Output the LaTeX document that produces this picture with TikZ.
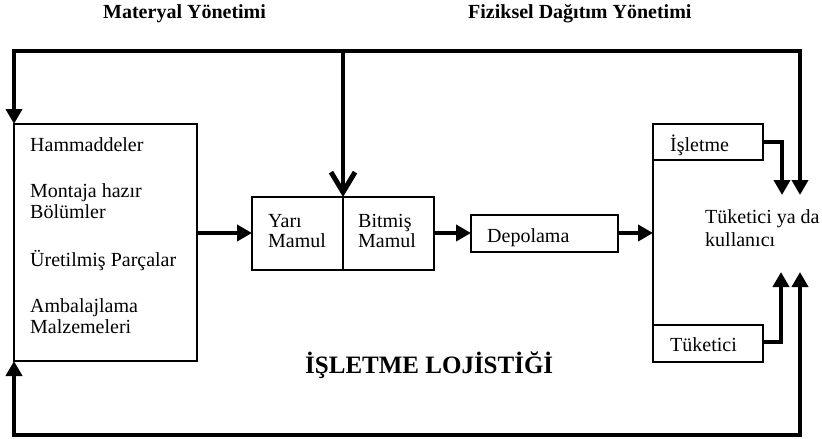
\documentclass[tikz,border=0pt]{standalone}
\usepackage{fontspec}
\setmainfont{Liberation Serif}
\usetikzlibrary{arrows.meta}
\begin{document}
\begin{tikzpicture}[x=1pt,y=-1pt,
  box/.style={draw=black,line width=1.3pt,inner sep=0pt,outer sep=0pt,anchor=north west},
  txt/.style={anchor=base west,inner sep=0pt,font=\fontsize{20}{21}\selectfont},
  head/.style={anchor=base west,inner sep=0pt,font=\fontsize{20}{21}\bfseries\selectfont},
  flow/.style={line width=4.5pt,line join=miter},
  tri/.style={-{Triangle[length=15pt,width=16pt]}},
  barb/.style={-{Straight Barb[length=20pt,width=24pt,line width=5pt]}}
]
\useasboundingbox (0,0) rectangle (822,439);

% headings
\node[head] (hmat) at (103,19) {Materyal Yönetimi};
\node[head] (hfiz) at (468,19) {Fiziksel Dağıtım Yönetimi};

% boxes
\node[box,minimum width=183pt,minimum height=237pt] (mat) at (14,124) {};
\node[box,minimum width=91pt,minimum height=73pt] (yari) at (252,197) {};
\node[box,minimum width=91pt,minimum height=73pt] (bitmis) at (343,197) {};
\node[box,minimum width=147pt,minimum height=37pt] (depo) at (471,215) {};
\node[box,minimum width=110pt,minimum height=36pt] (isl) at (653,124) {};
\node[box,minimum width=110pt,minimum height=37pt] (tuk) at (653,325) {};

% box texts
\node[txt] (t1) at (30,151) {Hammaddeler};
\node[txt] (t2) at (30,197) {Montaja hazır};
\node[txt] (t3) at (30,218) {Bölümler};
\node[txt] (t4) at (30,266) {Üretilmiş Parçalar};
\node[txt] (t5) at (30,312) {Ambalajlama};
\node[txt] (t6) at (30,333) {Malzemeleri};
\node[txt] (t7) at (268,227) {Yarı};
\node[txt] (t8) at (268,247) {Mamul};
\node[txt] (t9) at (358,227) {Bitmiş};
\node[txt] (t10) at (358,247) {Mamul};
\node[txt] (t11) at (487,242) {Depolama};
\node[txt] (t12) at (670,151) {İşletme};
\node[txt] (t13) at (670,351) {Tüketici};
\node[txt] (t14) at (705,223) {Tüketici ya da};
\node[txt] (t15) at (705,246) {kullanıcı};

% title
\node[anchor=base west,inner sep=0pt,font=\fontsize{25}{27}\bfseries\selectfont] (title) at (305,373) {İŞLETME LOJİSTİĞİ};

% connection points
\coordinate (tophub) at (343,51);
\coordinate (bothub) at (400,435);
\coordinate (inA) at (782,195);
\coordinate (inB) at (800,195);
\coordinate (inC) at (781,272);
\coordinate (inD) at (800,272);
\coordinate (rail) at (653,233);

% thin rail joining the two end boxes
\draw[line width=1.3pt] (isl.south west) -- (tuk.north west);

% main flow
\draw[flow,tri] (mat.east |- 0,233) -- (yari.west |- 0,233);
\draw[flow,tri] (bitmis.east |- 0,233) -- (depo.west |- 0,233);
\draw[flow,tri] (depo.east |- 0,233) -- (rail);

% top loop
\draw[flow,tri] (tophub) -| (mat.north west);
\draw[flow,tri] (tophub) -| (inB);
\draw[flow,barb] (tophub) -- (bitmis.north west);

% bottom loop
\draw[flow,tri] (bothub) -| (mat.south west);
\draw[flow,tri] (bothub) -| (inD);

% end-box connectors
\draw[flow,tri] (isl.east |- 0,142) -| (inA);
\draw[flow,tri] (tuk.east |- 0,342) -| (inC);
\end{tikzpicture}
\end{document}
